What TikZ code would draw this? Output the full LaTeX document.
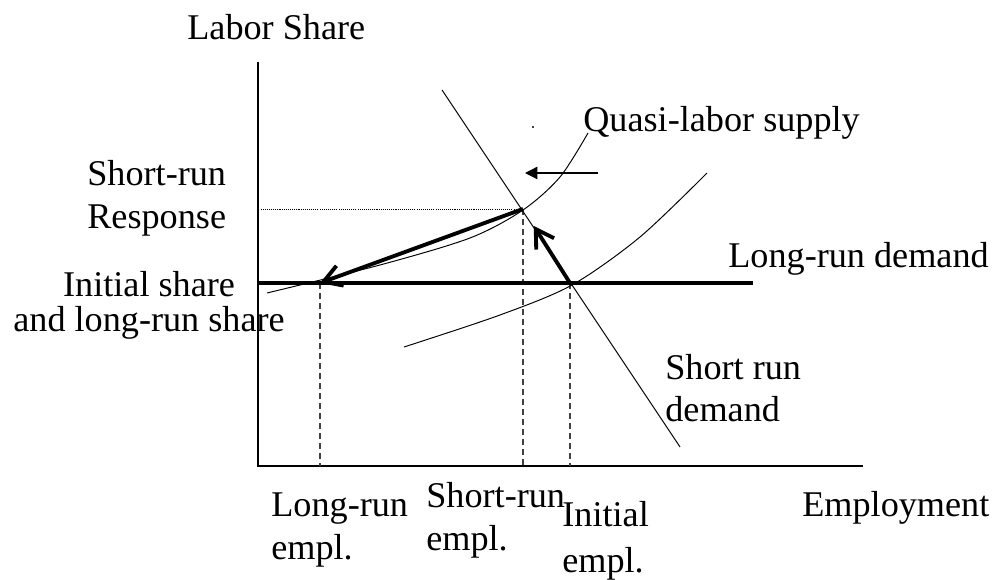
\documentclass[tikz,border=0pt]{standalone}
\usepackage{fontspec}
\setmainfont{Liberation Serif}
\usetikzlibrary{arrows.meta}

\begin{document}
\begin{tikzpicture}[x=0.02cm,y=-0.02cm,
  lbl/.style={inner sep=0pt,align=left,font=\fontsize{20.6}{24.4}\selectfont},
  curve/.style={line width=0.55pt},
  guide/.style={line width=0.6pt,black!75,dash pattern=on 3.4pt off 2.3pt},
  move/.style={line width=2.2pt,-{Straight Barb[length=10pt,width=12pt]}},
  shiftarrow/.style={line width=0.7pt,-{Triangle[length=7pt,width=7pt]}}]
  \useasboundingbox (0,0) rectangle (997,580);
  \coordinate (O) at (258,466);
  \coordinate (ytop) at (258,62);
  \coordinate (xend) at (863,466);
  \coordinate (init) at (570,283);
  \coordinate (short) at (523,209);
  \coordinate (long) at (320,283);
  \coordinate (ldL) at (258,283);
  \coordinate (ldR) at (753,283);
  \coordinate (sdT) at (442,90);
  \coordinate (sdB) at (680,447);
  \coordinate (sh1) at (598,173);
  \coordinate (sh2) at (525,173);
  \draw[line width=0.75pt] (ytop) -- (O) -- (xend);
  \draw[guide] (long) -- (long |- O);
  \draw[guide] (short) -- (short |- O);
  \draw[guide] (init) -- (init |- O);
  \draw[line width=0.45pt,dash pattern=on 0.6pt off 0.6pt] (short) -- (short -| O);
  \draw[line width=2.5pt] (ldL) -- (ldR);
  \draw[curve] (sdT) -- (sdB);
  \draw[curve] plot[smooth] coordinates {(267,293) (380,265) (470,238) (523,210) (560,177) (588,133)};
  \draw[curve] plot[smooth] coordinates {(404,347) (500,315) (572,285) (640,237) (707,173)};
  \draw[move] (short) -- (long);
  \draw[move,shorten >=0.4cm] (init) -- (short);
  \draw[shiftarrow] (sh1) -- (sh2);
  \fill (533,127) circle (0.6pt);
  \node[lbl,anchor=base west] (yl) at (187,40) {Labor Share};
  \node[lbl,anchor=base west] (qls) at (583,132) {Quasi-labor supply};
  \node[lbl,anchor=base west,align=center] (srr) at (87,229) {Short-run\\[0.5pt]Response};
  \node[lbl,anchor=base west,align=center] (ish) at (13,332) {Initial share\\[-4pt]and long-run share};
  \node[lbl,anchor=base west] (lrd) at (728,268) {Long-run demand};
  \node[lbl,anchor=base west] (srd) at (665,422) {Short run\\demand};
  \node[lbl,anchor=base west] (lre) at (271,559) {Long-run\\empl.};
  \node[lbl,anchor=base west] (sre) at (426,550) {Short-run\\empl.};
  \node[lbl,anchor=base west] (ine) at (562,572) {Initial\\[1.7pt]empl.};
  \node[lbl,anchor=base west] (emp) at (802,517) {Employment};
\end{tikzpicture}
\end{document}
